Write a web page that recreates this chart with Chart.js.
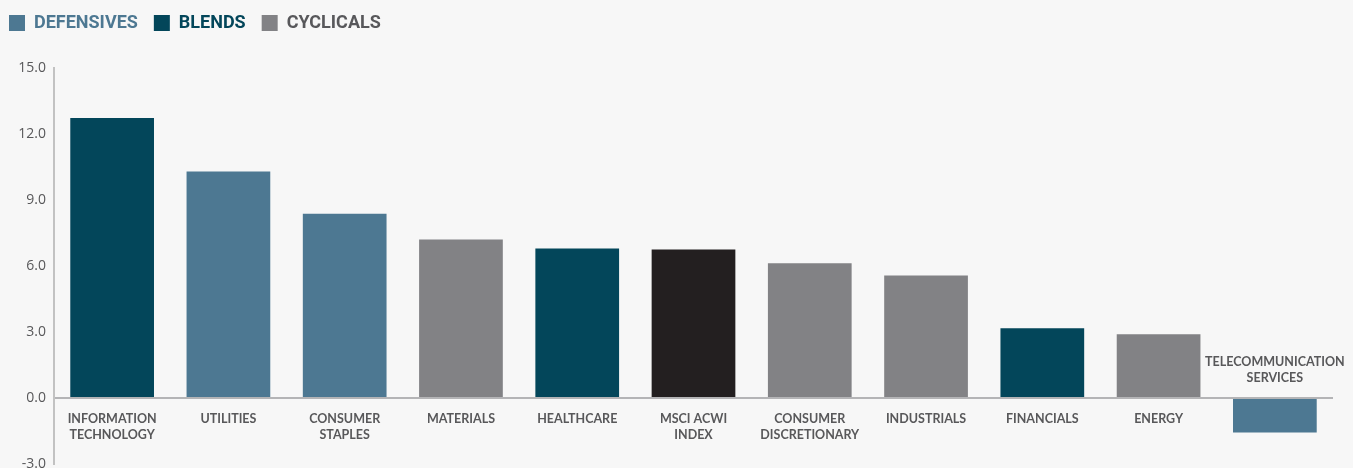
<!DOCTYPE html>
<html>
<head>
<meta charset="utf-8">
<script src="https://cdn.jsdelivr.net/npm/chart.js@4"></script>
<style>
  html, body { margin: 0; padding: 0; background: #f7f7f7; }
  #wrap { width: 1353px; height: 468px; position: relative; }
</style>
</head>
<body>
<div id="wrap"><canvas id="sectorChart"></canvas></div>
<script>
// sectors, left to right
var categories = [
  ['INFORMATION', 'TECHNOLOGY'], ['UTILITIES'], ['CONSUMER', 'STAPLES'], ['MATERIALS'],
  ['HEALTHCARE'], ['MSCI ACWI', 'INDEX'], ['CONSUMER', 'DISCRETIONARY'], ['INDUSTRIALS'],
  ['FINANCIALS'], ['ENERGY'], ['TELECOMMUNICATION', 'SERVICES']
];
var values = [12.73, 10.29, 8.38, 7.2, 6.8, 6.75, 6.12, 5.57, 3.17, 2.9, -1.57];
var groups = ['BLENDS', 'DEFENSIVES', 'DEFENSIVES', 'CYCLICALS', 'BLENDS', 'INDEX',
  'CYCLICALS', 'CYCLICALS', 'BLENDS', 'CYCLICALS', 'DEFENSIVES'];
var legendGroups = ['DEFENSIVES', 'BLENDS', 'CYCLICALS'];

var groupColors = {
  DEFENSIVES: '#4d7892',
  BLENDS: '#03465a',
  CYCLICALS: '#828285',
  INDEX: '#231f20'
};
var legendTextColors = {
  DEFENSIVES: '#4d7892',
  BLENDS: '#03465a',
  CYCLICALS: '#58585b'
};

// sector names drawn at the zero line (above it for negative bars)
var sectorLabels = {
  id: 'sectorLabels',
  beforeInit: function(chart) {
    // extra room between legend and plot
    var fit = chart.legend.fit;
    chart.legend.fit = function() {
      fit.call(chart.legend);
      this.height += 26;
    };
  },
  afterDatasetsDraw: function(chart) {
    var ctx = chart.ctx;
    var meta = chart.getDatasetMeta(0);
    var y0 = chart.scales.y.getPixelForValue(0);
    ctx.save();
    ctx.font = 'bold 12.5px Lato';
    ctx.fillStyle = '#58585a';
    ctx.textAlign = 'center';
    ctx.textBaseline = 'middle';
    meta.data.forEach(function(bar, i) {
      var lines = categories[i];
      var y = values[i] >= 0 ? y0 + 21 : y0 - 20 - (lines.length - 1) * 16;
      lines.forEach(function(t, j) {
        ctx.fillText(t, bar.x, y + j * 16);
      });
    });
    ctx.restore();
  }
};

var ctx1 = document.getElementById('sectorChart');
var myChart = new Chart(ctx1, {
  type: 'bar',
  data: {
    labels: categories.map(function(c) { return c.join(' '); }),
    datasets: [{
      data: values,
      backgroundColor: groups.map(function(g) { return groupColors[g]; }),
      barPercentage: 0.72,
      categoryPercentage: 1.0
    }]
  },
  options: {
    responsive: true,
    maintainAspectRatio: false,
    animation: false,
    layout: { padding: { top: -2, left: -7, right: 20, bottom: 4 } },
    plugins: {
      tooltip: { enabled: false },
      legend: {
        position: 'top',
        align: 'start',
        labels: {
          boxWidth: 16,
          boxHeight: 16,
          padding: 16,
          font: { family: 'Roboto', weight: 'bold', size: 18 },
          generateLabels: function() {
            return legendGroups.map(function(g) {
              return {
                text: g,
                fillStyle: groupColors[g],
                strokeStyle: groupColors[g],
                lineWidth: 0,
                fontColor: legendTextColors[g]
              };
            });
          }
        }
      }
    },
    scales: {
      x: { display: false },
      y: {
        min: -3,
        max: 15,
        afterFit: function(scale) {
          scale.width = 61;
          scale.paddingTop = 0;
          scale.paddingBottom = 0;
        },
        ticks: {
          stepSize: 3,
          padding: 8,
          color: '#58585a',
          font: { family: 'Open Sans', size: 14 },
          callback: function(v) { return v.toFixed(1); }
        },
        border: { color: '#c2c2c2', width: 2 },
        grid: {
          drawTicks: false,
          lineWidth: 2,
          color: function(c) { return c.tick && c.tick.value === 0 ? '#b4b4b6' : 'rgba(0,0,0,0)'; }
        }
      }
    }
  },
  plugins: [sectorLabels]
});
</script>
</body>
</html>
